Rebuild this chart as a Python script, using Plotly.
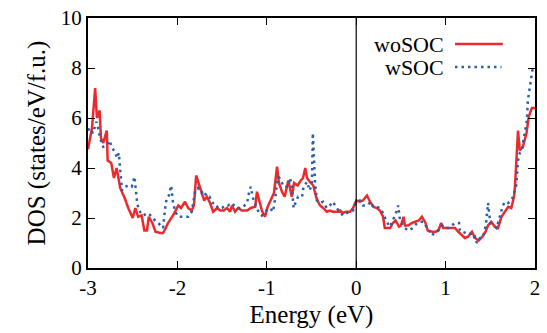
import plotly.graph_objects as go

# woSOC (red, solid)
energy_wo = [-3.00, -2.955, -2.92, -2.90, -2.87, -2.855, -2.83, -2.79, -2.78, -2.74, -2.71, -2.68,
             -2.64, -2.59, -2.55, -2.50, -2.47, -2.44, -2.40, -2.37, -2.34, -2.32, -2.28, -2.245,
             -2.19, -2.16, -2.13, -2.105, -2.05, -1.99, -1.96, -1.915, -1.88, -1.84, -1.815, -1.79,
             -1.75, -1.70, -1.67, -1.635, -1.60, -1.555, -1.52, -1.48, -1.445, -1.41, -1.39, -1.355,
             -1.32, -1.28, -1.22, -1.18, -1.13, -1.11, -1.055, -1.02, -0.99, -0.955, -0.92, -0.885,
             -0.865, -0.83, -0.80, -0.76, -0.72, -0.695, -0.655, -0.62, -0.595, -0.57, -0.55, -0.52,
             -0.48, -0.445, -0.405, -0.37, -0.33, -0.295, -0.26, -0.215, -0.18, -0.15, -0.115, -0.07,
             -0.035, 0.00, 0.04, 0.075, 0.12, 0.155, 0.19, 0.23, 0.265, 0.30, 0.32, 0.38, 0.41, 0.44,
             0.48, 0.50, 0.53, 0.545, 0.58, 0.625, 0.66, 0.70, 0.735, 0.775, 0.80, 0.85, 0.89, 0.92,
             0.95, 0.975, 1.015, 1.07, 1.105, 1.14, 1.18, 1.215, 1.25, 1.295, 1.33, 1.37, 1.41, 1.44,
             1.475, 1.51, 1.55, 1.585, 1.625, 1.665, 1.70, 1.735, 1.765, 1.775, 1.81, 1.83, 1.865,
             1.905, 1.93, 1.965, 2.00]
dos_wo = [4.75, 5.6, 7.2, 6.0, 6.3, 5.2, 5.0, 5.5, 4.3, 4.2, 3.6, 4.0,
          3.2, 2.8, 2.4, 2.0, 2.4, 2.05, 2.1, 1.5, 1.5, 2.05, 1.8, 1.45,
          1.4, 1.4, 1.6, 1.8, 2.1, 2.5, 2.4, 2.65, 2.4, 2.3, 2.5, 3.7,
          3.25, 2.7, 2.85, 2.6, 2.25, 2.4, 2.3, 2.3, 2.4, 2.25, 2.5, 2.25,
          2.4, 2.3, 2.3, 2.4, 2.45, 3.05, 2.3, 2.05, 2.45, 2.7, 3.0, 4.05,
          3.4, 3.05, 2.85, 3.5, 2.85, 3.4, 3.3, 3.5, 3.6, 4.0, 3.6, 3.45,
          3.3, 2.8, 2.5, 2.4, 2.25, 2.3, 2.25, 2.25, 2.3, 2.2, 2.25, 2.25,
          2.4, 2.7, 2.65, 2.7, 2.9, 2.65, 2.45, 2.4, 2.3, 2.05, 1.6, 1.6, 1.8, 1.9,
          1.65, 1.7, 2.05, 1.7, 1.7, 1.8, 1.85, 1.9, 2.05, 1.8, 1.5, 1.45, 1.45, 1.5,
          1.8, 1.6, 1.6, 1.6, 1.6, 1.45, 1.3, 1.2, 1.25, 1.45, 1.2, 1.1, 1.25, 1.4,
          1.7, 1.85, 1.65, 1.6, 2.05, 2.25, 2.45, 2.4, 2.85, 3.2, 5.5, 4.7, 4.85,
          5.4, 6.05, 6.4, 6.4]

# wSOC (blue, dotted)
energy_w = [-3.00, -2.98, -2.945, -2.905, -2.89, -2.865, -2.83, -2.79, -2.76, -2.73, -2.70, -2.675,
            -2.655, -2.635, -2.62, -2.585, -2.55, -2.51, -2.48, -2.45, -2.43, -2.385, -2.33, -2.285,
            -2.25, -2.215, -2.18, -2.16, -2.14, -2.12, -2.095, -2.07, -2.05, -2.025, -1.99, -1.935,
            -1.88, -1.84, -1.825, -1.80, -1.77, -1.73, -1.71, -1.67, -1.64, -1.61, -1.58, -1.545,
            -1.50, -1.47, -1.435, -1.39, -1.355, -1.32, -1.28, -1.245, -1.22, -1.20, -1.18, -1.155,
            -1.12, -1.10, -1.055, -1.02, -0.965, -0.93, -0.91, -0.885, -0.865, -0.84, -0.81, -0.76,
            -0.74, -0.72, -0.70, -0.675, -0.65, -0.605, -0.59, -0.55, -0.52, -0.495, -0.485, -0.46,
            -0.44, -0.405, -0.37, -0.33, -0.295, -0.26, -0.22, -0.18, -0.15, -0.105, -0.07, -0.035,
            0.00, 0.04, 0.075, 0.12, 0.165, 0.19, 0.23, 0.265, 0.30, 0.34, 0.38, 0.41, 0.445, 0.47,
            0.49, 0.51, 0.545, 0.58, 0.635, 0.68, 0.715, 0.75, 0.79, 0.85, 0.88, 0.915, 0.96, 0.995,
            1.03, 1.07, 1.105, 1.15, 1.16, 1.195, 1.24, 1.27, 1.305, 1.33, 1.35, 1.385, 1.42, 1.45,
            1.475, 1.50, 1.53, 1.57, 1.61, 1.64, 1.665, 1.70, 1.735, 1.76, 1.79, 1.80, 1.81, 1.83,
            1.855, 1.865, 1.885, 1.91, 1.92, 1.945, 1.97, 1.99]
dos_w = [5.5, 5.6, 5.4, 5.85, 5.65, 5.2, 4.85, 4.9, 5.1, 4.8, 4.65, 4.4,
         4.6, 3.8, 3.1, 3.25, 3.3, 3.25, 3.65, 2.6, 2.3, 2.1, 2.2, 2.05,
         1.9, 1.8, 1.65, 1.6, 2.3, 2.8, 2.9, 3.3, 2.65, 2.25, 2.05, 2.05,
         2.05, 2.25, 2.65, 3.1, 3.2, 3.0, 3.1, 2.85, 2.85, 2.6, 2.6, 2.4,
         2.4, 2.5, 2.5, 2.6, 2.45, 2.4, 2.4, 2.5, 2.6, 3.0, 3.25, 2.8,
         2.45, 2.3, 2.1, 2.25, 2.4, 2.25, 2.7, 3.4, 3.65, 3.45, 3.25, 3.25,
         3.6, 3.25, 2.4, 2.65, 2.85, 2.85, 3.25, 3.45, 3.1, 3.4, 5.4, 3.4,
         2.7, 2.6, 2.65, 2.4, 2.5, 2.65, 2.4, 2.25, 2.1, 2.2, 2.25, 2.3,
         2.65, 2.7, 2.5, 2.5, 2.65, 2.45, 2.45, 2.4, 2.2, 1.85, 1.65, 1.9, 2.2, 2.5,
         1.9, 1.8, 1.6, 1.5, 1.6, 1.8, 1.85, 1.85, 1.65, 1.3, 1.45, 1.5, 1.7, 1.6,
         1.6, 1.7, 1.8, 1.8, 1.5, 1.4, 1.45, 1.4, 1.2, 1.25, 1.0, 1.2, 1.25, 1.7,
         2.6, 1.8, 1.7, 1.6, 2.1, 2.5, 2.65, 2.6, 2.7, 2.9, 3.3, 3.8, 4.3, 4.6,
         4.7, 5.0, 5.4, 5.9, 6.7, 7.25, 7.9, 8.05]

x_ticks = [-3, -2, -1, 0, 1, 2]
y_ticks = [0, 2, 4, 6, 8, 10]
series_names = ["woSOC", "wSOC"]

RED = "#ec2a2c"
BLUE = "#2b5eab"
DOT = "2.5px,4px"
FONT = "Liberation Serif, Times New Roman, serif"

fig = go.Figure()
fig.add_trace(go.Scatter(x=energy_wo, y=dos_wo, mode="lines", name=series_names[0],
                         line=dict(color=RED, width=2.5), showlegend=False))
fig.add_trace(go.Scatter(x=energy_w, y=dos_w, mode="lines", name=series_names[1],
                         line=dict(color=BLUE, width=2.5, dash=DOT), showlegend=False))

# Fermi level line
fig.add_shape(type="line", xref="x", yref="paper", x0=0, x1=0, y0=0, y1=1,
              line=dict(color="black", width=1.2))

# Legend (text left of sample line, as in gnuplot)
fig.add_annotation(xref="paper", yref="paper", x=0.80, y=0.896, xanchor="right", yanchor="middle",
                   text=series_names[0], showarrow=False, font=dict(family=FONT, size=22, color="black"))
fig.add_annotation(xref="paper", yref="paper", x=0.80, y=0.800, xanchor="right", yanchor="middle",
                   text=series_names[1], showarrow=False, font=dict(family=FONT, size=22, color="black"))
fig.add_shape(type="line", xref="paper", yref="paper", x0=0.821, x1=0.928, y0=0.896, y1=0.896,
              line=dict(color=RED, width=2.5))
fig.add_shape(type="line", xref="paper", yref="paper", x0=0.821, x1=0.925, y0=0.804, y1=0.804,
              line=dict(color=BLUE, width=2.5, dash=DOT))

axis_common = dict(showline=True, linecolor="black", linewidth=2, mirror="ticks",
                   ticks="inside", ticklen=7, tickwidth=1, tickcolor="black",
                   showgrid=False, zeroline=False, automargin=False,
                   tickfont=dict(family=FONT, size=21, color="black"))

fig.update_xaxes(range=[-3, 2], tickvals=x_ticks, ticktext=[str(v) for v in x_ticks],
                 title=dict(text="Energy (eV)", font=dict(family=FONT, size=25, color="black"), standoff=6),
                 **axis_common)
fig.update_yaxes(range=[0, 10], tickvals=y_ticks, ticktext=[str(v) for v in y_ticks],
                 title=dict(text="DOS (states/eV/f.u.)", font=dict(family=FONT, size=25, color="black"), standoff=8),
                 **axis_common)

fig.update_layout(width=547, height=333, margin=dict(l=88, r=12, t=18, b=65, autoexpand=False),
                  paper_bgcolor="white", plot_bgcolor="white",
                  font=dict(family=FONT, color="black"))

fig.write_html("out.html", config={"displayModeBar": False},
               post_script="document.body.style.margin='0';")
